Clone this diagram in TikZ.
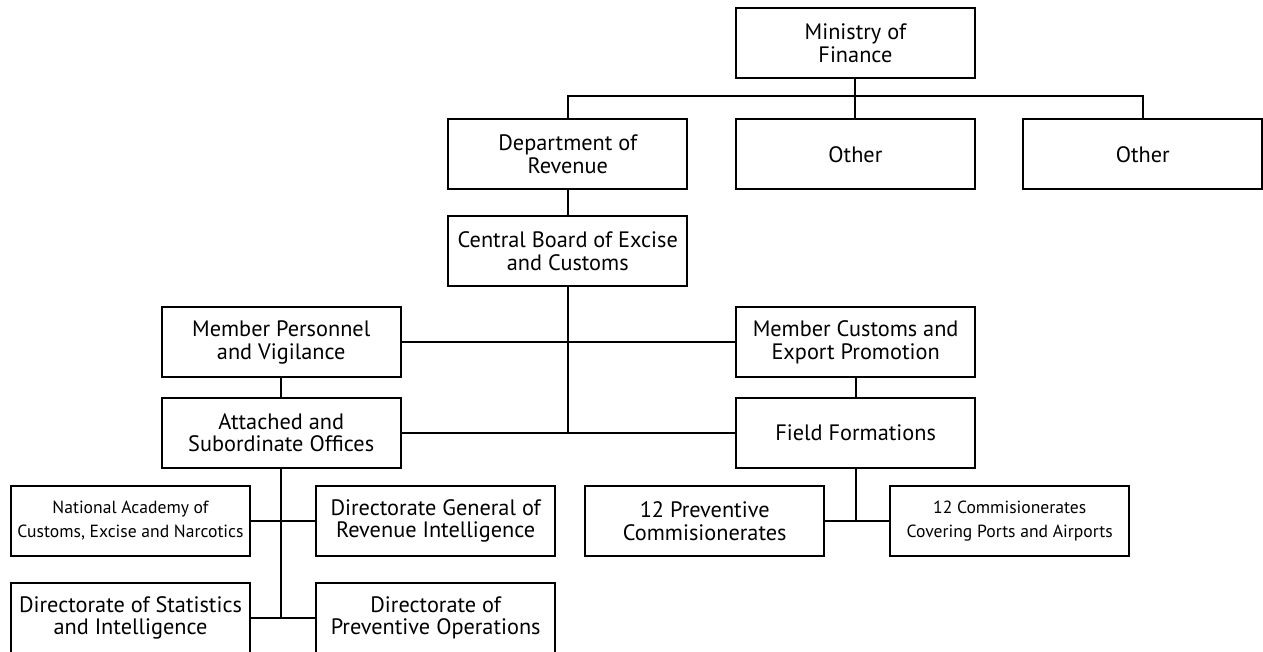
\documentclass[tikz,border=0pt]{standalone}
\usepackage{fontspec}
\setmainfont{PT Sans}
\begin{document}
\begin{tikzpicture}[x=1pt,y=-1pt,
  orgbox/.style={draw=black,line width=2pt,minimum width=239pt,minimum height=70pt,
    inner sep=2pt,align=center,font=\fontsize{22.3}{22.5}\selectfont},
  smallbox/.style={orgbox,font=\fontsize{17.6}{24}\selectfont},
  conn/.style={line width=2pt}]
\useasboundingbox (0,0) rectangle (1263,652);
\node[orgbox] (mof) at (855.4,43.3) {Ministry of\\Finance};
\node[orgbox] (dor) at (567.8,154.3) {Department of\\Revenue};
\node[orgbox] (oth1) at (855.4,154.3) {Other};
\node[orgbox] (oth2) at (1142.8,154.3) {Other};
\node[orgbox] (cbec) at (567.8,251) {Central Board of Excise\\and Customs};
\node[orgbox] (mpv) at (281.2,342.3) {Member Personnel\\and Vigilance};
\node[orgbox] (mcep) at (855.6,342.3) {Member Customs and\\Export Promotion};
\node[orgbox] (aso) at (281.2,432.7) {Attached and\\Subordinate Offices};
\node[orgbox] (ff) at (855.6,432.7) {Field Formations};
\node[smallbox] (naca) at (130.5,521) {National Academy of\\Customs, Excise and Narcotics};
\node[orgbox] (dgri) at (435.7,521) {Directorate General of\\Revenue Intelligence};
\node[orgbox] (dsi) at (130.5,617.7) {Directorate of Statistics\\and Intelligence};
\node[orgbox] (dpo) at (435.7,617.7) {Directorate of\\Preventive Operations};
\node[orgbox] (pc) at (704.7,521) {12 Preventive\\Commisionerates};
\node[smallbox] (cpa) at (1009.7,521) {12 Commisionerates\\Covering Ports and Airports};
\coordinate (bus) at (0,96);
\draw[conn] (mof.south) -- (oth1.north);
\draw[conn] (dor.north) -- (dor.north |- bus) -- (oth2.north |- bus) -- (oth2.north);
\draw[conn] (dor.south) -- (cbec.north);
\draw[conn] (cbec.south) -- (cbec.south |- aso.east);
\draw[conn] (mpv.east) -- (mcep.west);
\draw[conn] (aso.east) -- (ff.west);
\draw[conn] (mpv.south) -- (aso.north);
\draw[conn] (mcep.south) -- (ff.north);
\draw[conn] (aso.south) -- (aso.south |- dsi.east);
\draw[conn] (naca.east) -- (dgri.west);
\draw[conn] (dsi.east) -- (dpo.west);
\draw[conn] (ff.south) -- (ff.south |- pc.east);
\draw[conn] (pc.east) -- (cpa.west);
\end{tikzpicture}
\end{document}
